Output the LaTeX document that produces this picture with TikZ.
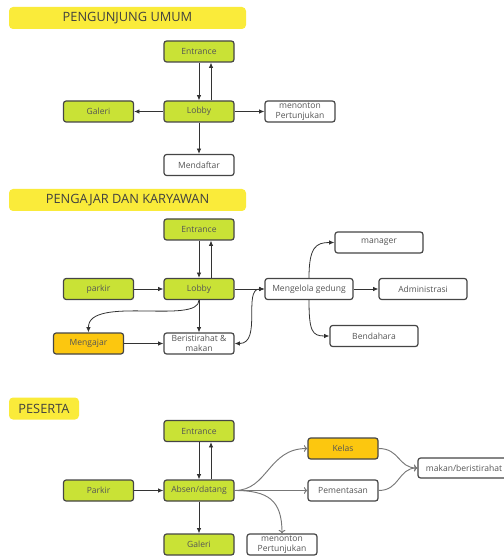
\documentclass[tikz,border=0pt]{standalone}
\usepackage{fontspec}
\setmainfont{Open Sans}
\usetikzlibrary{arrows.meta}
\definecolor{lime}{HTML}{C9E236}
\definecolor{amber}{HTML}{FCC70F}
\definecolor{banner}{HTML}{FAEB3A}
\definecolor{bord}{HTML}{454545}
\definecolor{txt}{HTML}{555555}
\definecolor{garrow}{HTML}{777777}
\tikzset{
  box/.style={draw=bord, line width=0.9pt, rounded corners=2pt, fill=white,
    minimum width=52.5pt, minimum height=15.75pt, inner sep=0pt,
    align=center, text=txt, font=\fontsize{6.4}{7.6}\selectfont},
  gbox/.style={box, fill=lime},
  obox/.style={box, fill=amber},
  wide/.style={minimum width=66pt},
  title/.style={fill=banner, rounded corners=3pt, minimum height=16.5pt, inner sep=0pt,
    text=black!75, font=\fontsize{9.6}{11}\selectfont},
  arr/.style={draw=black!80, line width=0.6pt, -{Latex[length=4pt,width=3.4pt]}},
  darr/.style={draw=black!80, line width=0.6pt, {Latex[length=4pt,width=3.4pt]}-{Latex[length=4pt,width=3.4pt]}},
  garr/.style={draw=garrow, line width=0.7pt, -{To[length=2.6pt,width=5pt]}},
}
\begin{document}
\begin{tikzpicture}[x=0.75pt,y=-0.75pt]
\useasboundingbox (0,0) rectangle (503,559);
% ---------- Section 1 ----------
\node[title, minimum width=177.75pt] (t1) at (127.5,18) {PENGUNJUNG UMUM};
\node[gbox] (e1) at (199,51.5) {Entrance};
\node[gbox] (l1) at (199,111.5) {Lobby};
\node[gbox] (g1) at (98.5,111.5) {Galeri};
\node[box] (m1) at (300,111.5) {menonton\\Pertunjukan};
\node[box] (d1) at (199,165) {Mendaftar};
\draw[arr] (e1.south) -- (l1.north);
\draw[arr] ([xshift=9pt]l1.north) -- ([xshift=9pt]e1.south);
\draw[arr] (l1.west) -- (g1.east);
\draw[arr] (l1.east) -- (m1.west);
\draw[arr] (l1.south) -- (d1.north);
% ---------- Section 2 ----------
\node[title, minimum width=177.75pt] (t2) at (127.5,200) {PENGAJAR DAN KARYAWAN};
\node[gbox] (e2) at (199,229.5) {Entrance};
\node[gbox] (l2) at (199,289) {Lobby};
\node[gbox] (p2) at (98.5,289) {parkir};
\node[box, wide] (mg2) at (309,289) {Mengelola gedung};
\node[box, wide] (ad2) at (423,289) {Administrasi};
\node[box, wide] (ma2) at (379,242.5) {manager};
\node[box, wide] (be2) at (374,336) {Bendahara};
\node[obox] (mj2) at (88.5,343.5) {Mengajar};
\node[box] (br2) at (199,343.5) {Beristirahat \&\\makan};
\draw[arr] (e2.south) -- (l2.north);
\draw[arr] ([xshift=9pt]l2.north) -- ([xshift=9pt]e2.south);
\draw[arr] (p2.east) -- (l2.west);
\draw[arr] (l2.east) -- (mg2.west);
\draw[arr] (mg2.east) -- (ad2.west);
\draw[arr] (mg2.north) .. controls (309,247) and (316,242.5) .. (ma2.west);
\draw[arr] (mg2.south) .. controls (309,331) and (312,336) .. (be2.west);
\draw[arr] (l2.south) .. controls (199,325) and (88,295) .. (mj2.north);
\draw[arr] (l2.south) -- (br2.north);
\draw[arr] (mj2.east) -- (br2.west);
\draw[darr] (br2.east) .. controls (262,343.5) and (243,289) .. (mg2.west);
% ---------- Section 3 ----------
\node[title, minimum width=52.5pt] (t3) at (44,408.5) {PESERTA};
\node[gbox] (e3) at (199,431) {Entrance};
\node[gbox] (ab3) at (199,490.5) {Absen/datang};
\node[gbox] (pk3) at (98.5,490.5) {Parkir};
\node[gbox] (ga3) at (199,544.5) {Galeri};
\node[box] (mn3) at (282,544.5) {menonton\\Pertunjukan};
\node[obox] (ke3) at (343,448.5) {Kelas};
\node[box] (pm3) at (343,490.5) {Pementasan};
\node[box, minimum width=69pt, minimum height=15pt] (mk3) at (464,468) {makan/beristirahat};
\draw[arr] (e3.south) -- (ab3.north);
\draw[arr] ([xshift=9pt]ab3.north) -- ([xshift=9pt]e3.south);
\draw[arr] (pk3.east) -- (ab3.west);
\draw[arr] (ab3.south) -- (ga3.north);
\draw[garr] (ab3.east) .. controls (268,490.5) and (268,448.5) .. (ke3.west);
\draw[garr] (ab3.east) -- (pm3.west);
\draw[garr] (ab3.east) .. controls (268,490.5) and (282,500) .. (mn3.north);
\draw[garr] (ke3.east) .. controls (400,448.5) and (398,468) .. (mk3.west);
\draw[garr] (pm3.east) .. controls (400,490.5) and (398,468) .. (mk3.west);
\end{tikzpicture}
\end{document}
